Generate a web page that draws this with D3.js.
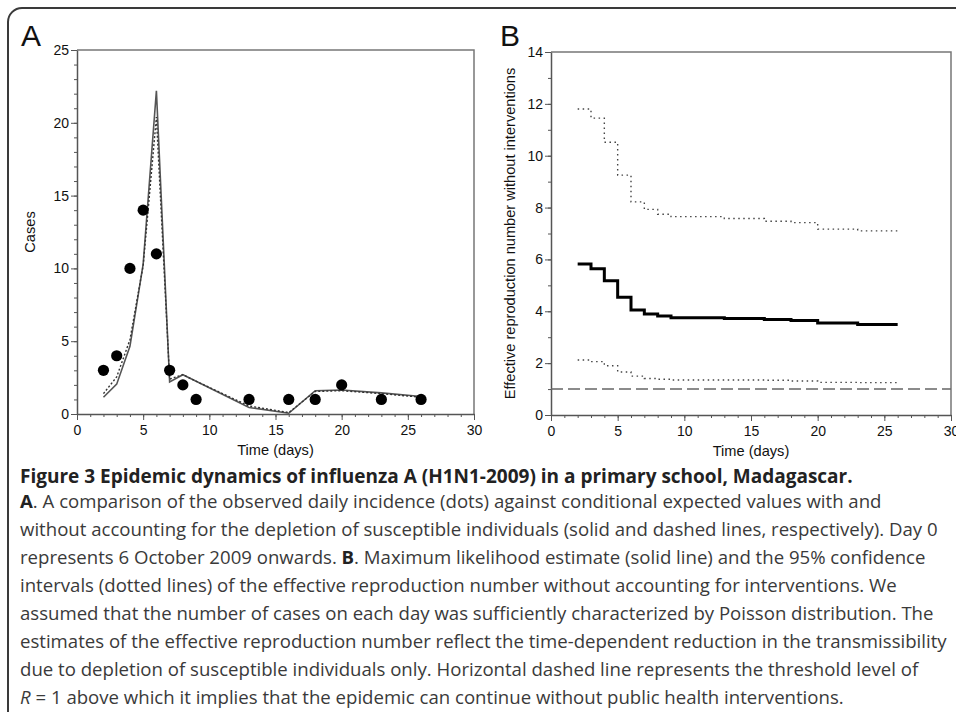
<!DOCTYPE html>
<html>
<head>
<meta charset="utf-8">
<script src="https://cdn.jsdelivr.net/npm/d3@7"></script>
<style>
    html, body { margin: 0; padding: 0; background: #fff; }
    svg { display: block; }
    .axis path, .axis line { stroke: #555; }
    .axis-title { font-family: "Liberation Sans", Arial, sans-serif; font-size: 14.6px; fill: #111; }
    .panel-letter { font-family: "Liberation Sans", Arial, sans-serif; font-size: 30px; fill: #111; }
    .caption { font-family: "Open Sans", "Noto Sans", sans-serif; font-size: 18.6px; fill: #3a3a3a; }
    .caption-title { font-weight: bold; font-size: 19px; fill: #222; }
</style>
</head>
<body>
<div id="chart"></div>
<script>
// ---- Panel A: observed daily incidence and expected values ----
const days = [2, 3, 4, 5, 6, 7, 8, 9, 13, 16, 18, 20, 23, 26];
const observedCases = [3, 4, 10, 14, 11, 3, 2, 1, 1, 1, 1, 2, 1, 1];
const expectedWithDepletion = [1.15, 2.05, 4.65, 10.3, 22.2, 2.2, 2.7, 2.25, 0.45, 0.05, 1.6, 1.65, 1.45, 1.2];
const expectedWithoutDepletion = [1.4, 2.55, 5.1, 10.2, 20.4, 2.4, 2.7, 2.25, 0.55, 0.1, 1.55, 1.6, 1.4, 1.15];

// ---- Panel B: effective reproduction number (step values start on each day) ----
const rDays = [2, 3, 4, 5, 6, 7, 8, 9, 13, 16, 18, 20, 23];
const rEndDay = 26;
const rEstimate = [5.82, 5.64, 5.18, 4.54, 4.05, 3.9, 3.82, 3.75, 3.72, 3.68, 3.64, 3.55, 3.49];
const rUpper = [11.8, 11.45, 10.52, 9.25, 8.22, 7.93, 7.74, 7.65, 7.58, 7.47, 7.42, 7.17, 7.1];
const rLower = [2.12, 2.06, 1.9, 1.66, 1.5, 1.41, 1.38, 1.35, 1.35, 1.34, 1.31, 1.26, 1.25];
const rThreshold = 1;

// ---- Axes ticks ----
const xTicks = [0, 5, 10, 15, 20, 25, 30];
const yTicksA = [0, 5, 10, 15, 20, 25];
const yTicksB = [0, 2, 4, 6, 8, 10, 12, 14];

// ---- Caption ----
const captionTitle = 'Figure 3 Epidemic dynamics of influenza A (H1N1-2009) in a primary school, Madagascar.';
const captionLines = [
    [['A', 'b'], ['. A comparison of the observed daily incidence (dots) against conditional expected values with and', '']],
    [['without accounting for the depletion of susceptible individuals (solid and dashed lines, respectively). Day 0', '']],
    [['represents 6 October 2009 onwards. ', ''], ['B', 'b'], ['. Maximum likelihood estimate (solid line) and the 95% confidence', '']],
    [['intervals (dotted lines) of the effective reproduction number without accounting for interventions. We', '']],
    [['assumed that the number of cases on each day was sufficiently characterized by Poisson distribution. The', '']],
    [['estimates of the effective reproduction number reflect the time-dependent reduction in the transmissibility', '']],
    [['due to depletion of susceptible individuals only. Horizontal dashed line represents the threshold level of', '']],
    [['R', 'i'], [' = 1 above which it implies that the epidemic can continue without public health interventions.', '']]
];

const width = 956, height = 712;

const svg = d3.select('#chart').append('svg')
    .attr('width', width)
    .attr('height', height);

// Outer rounded frame (runs off the right and bottom edges)
svg.append('rect')
    .attr('x', 8).attr('y', 8)
    .attr('width', 1000).attr('height', 1000)
    .attr('rx', 14)
    .attr('fill', 'none')
    .attr('stroke', '#3a3a3a')
    .attr('stroke-width', 2);

// draws box, major + minor ticks, returns scales
function drawFrame(cfg) {
    const x = d3.scaleLinear().domain([0, 30]).range([cfg.left, cfg.right]);
    const y = d3.scaleLinear().domain([0, cfg.yMax]).range([cfg.bottom, cfg.top]);

    // top and right border of plot box
    svg.append('path')
        .attr('d', `M${cfg.left},${cfg.top}H${cfg.right}V${cfg.bottom}`)
        .attr('fill', 'none')
        .attr('stroke', '#777')
        .attr('stroke-width', 1.5);

    // minor ticks first
    svg.append('g')
        .attr('class', 'axis')
        .attr('transform', `translate(0,${cfg.bottom})`)
        .call(d3.axisBottom(x).tickValues(d3.range(0, 31)).tickSize(3).tickFormat(''))
        .call(g => g.select('.domain').remove());
    svg.append('g')
        .attr('class', 'axis')
        .attr('transform', `translate(${cfg.left},0)`)
        .call(d3.axisLeft(y).tickValues(d3.range(0, cfg.yMax + 1)).tickSize(3).tickFormat(''))
        .call(g => g.select('.domain').remove());

    const xAxisG = svg.append('g')
        .attr('class', 'axis')
        .attr('transform', `translate(0,${cfg.bottom})`)
        .call(d3.axisBottom(x).tickValues(xTicks).tickSize(6).tickSizeOuter(0).tickPadding(5));
    const yAxisG = svg.append('g')
        .attr('class', 'axis')
        .attr('transform', `translate(${cfg.left},0)`)
        .call(d3.axisLeft(y).tickValues(cfg.yTicks).tickSize(6).tickSizeOuter(0).tickPadding(2));

    [xAxisG, yAxisG].forEach(g => {
        g.attr('font-size', 14).attr('font-family', '"Liberation Sans", Arial, sans-serif');
        g.selectAll('text').attr('fill', '#111');
        g.select('.domain').attr('stroke-width', 1.5);
    });

    svg.append('text')
        .attr('class', 'axis-title')
        .attr('x', (cfg.left + cfg.right) / 2)
        .attr('y', cfg.bottom + 41)
        .attr('text-anchor', 'middle')
        .text('Time (days)');

    svg.append('text')
        .attr('class', 'axis-title')
        .attr('transform', `translate(${cfg.yTitleX},${(cfg.top + cfg.bottom) / 2}) rotate(-90)`)
        .attr('text-anchor', 'middle')
        .text(cfg.yTitle);

    svg.append('text')
        .attr('class', 'panel-letter')
        .attr('x', cfg.letterX)
        .attr('y', 46)
        .text(cfg.letter);

    return { x, y };
}

// ---------- Panel A ----------
const a = drawFrame({
    left: 77, right: 474, top: 50, bottom: 414,
    yMax: 25, yTicks: yTicksA, yTitle: 'Cases', yTitleX: 35,
    letter: 'A', letterX: 21
});

const lineA = values => d3.line()
    .x((d, i) => a.x(days[i]))
    .y(d => a.y(d))(values);

svg.append('path')
    .attr('d', lineA(expectedWithDepletion))
    .attr('fill', 'none')
    .attr('stroke', '#555')
    .attr('stroke-width', 1.6);

svg.append('path')
    .attr('d', lineA(expectedWithoutDepletion))
    .attr('fill', 'none')
    .attr('stroke', '#333')
    .attr('stroke-width', 1.4)
    .attr('stroke-dasharray', '2,2');

svg.append('g')
    .selectAll('circle')
    .data(observedCases)
    .join('circle')
    .attr('cx', (d, i) => a.x(days[i]))
    .attr('cy', d => a.y(d))
    .attr('r', 5.6)
    .attr('fill', '#000');

// ---------- Panel B ----------
const b = drawFrame({
    left: 551, right: 951, top: 52, bottom: 415,
    yMax: 14, yTicks: yTicksB,
    yTitle: 'Effective reproduction number without interventions', yTitleX: 515,
    letter: 'B', letterX: 500
});

const stepLine = values => {
    const pts = values.map((v, i) => [rDays[i], v]);
    pts.push([rEndDay, values[values.length - 1]]);
    return d3.line()
        .x(d => b.x(d[0]))
        .y(d => b.y(d[1]))
        .curve(d3.curveStepAfter)(pts);
};

svg.append('line')
    .attr('x1', b.x(0)).attr('x2', b.x(30))
    .attr('y1', b.y(rThreshold)).attr('y2', b.y(rThreshold))
    .attr('stroke', '#666')
    .attr('stroke-width', 1.5)
    .attr('stroke-dasharray', '12,5');

[rUpper, rLower].forEach(vals => {
    svg.append('path')
        .attr('d', stepLine(vals))
        .attr('fill', 'none')
        .attr('stroke', '#444')
        .attr('stroke-width', 1.4)
        .attr('stroke-dasharray', '1.5,3.5');
});

svg.append('path')
    .attr('d', stepLine(rEstimate))
    .attr('fill', 'none')
    .attr('stroke', '#000')
    .attr('stroke-width', 3);

// ---------- Caption ----------
svg.append('text')
    .attr('class', 'caption caption-title')
    .attr('x', 20)
    .attr('y', 483)
    .text(captionTitle);

captionLines.forEach((parts, i) => {
    const t = svg.append('text')
        .attr('class', 'caption')
        .attr('x', 20)
        .attr('y', 508 + i * 28);
    parts.forEach(([str, style]) => {
        const s = t.append('tspan').text(str);
        if (style === 'b') s.attr('font-weight', 'bold').attr('fill', '#222');
        if (style === 'i') s.attr('font-style', 'italic');
    });
});
</script>
</body>
</html>
